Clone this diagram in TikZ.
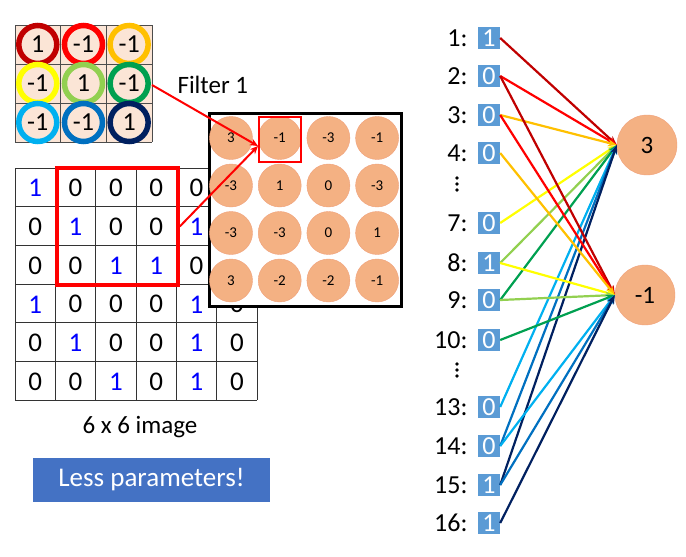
\documentclass[tikz,border=0pt]{standalone}
\usepackage{fontspec}
\setmainfont{Carlito}
\usetikzlibrary{arrows.meta}
\definecolor{peach}{HTML}{FBE5D6}
\definecolor{orb}{HTML}{F4B183}
\definecolor{orbd}{HTML}{F0A07A}
\definecolor{cA}{HTML}{C00000}
\definecolor{cB}{HTML}{FF0000}
\definecolor{cC}{HTML}{FFC000}
\definecolor{cD}{HTML}{FFFF00}
\definecolor{cE}{HTML}{92D050}
\definecolor{cF}{HTML}{00A050}
\definecolor{cG}{HTML}{00B0F0}
\definecolor{cH}{HTML}{0070C0}
\definecolor{cI}{HTML}{002060}
\definecolor{inbox}{HTML}{5B9BD5}
\definecolor{btn}{HTML}{4472C4}
\begin{document}
\begin{tikzpicture}[x=1pt,y=-1pt,
  fring/.style={circle,minimum size=38pt,line width=5.5pt,fill=peach,inner sep=0pt,font=\fontsize{26}{26}\selectfont},
  gcell/.style={font=\fontsize{27}{27}\selectfont},
  oc/.style={circle,minimum size=43pt,fill=orb,draw=orbd,line width=0.4pt,inner sep=0pt,font=\fontsize{15}{15}\selectfont},
  ib/.style={fill=inbox,text=white,minimum width=22pt,minimum height=22pt,inner sep=0pt,font=\fontsize{26}{26}\selectfont},
  il/.style={anchor=east,font=\fontsize{26}{26}\selectfont},
  big/.style={circle,minimum size=60pt,fill=orb,draw=orbd,inner sep=0pt,font=\fontsize{25}{25}\selectfont},
  dot/.style={circle,fill=black,inner sep=0pt,minimum size=3.6pt},
  arr/.style={-{Stealth[length=9pt,width=7pt]},line width=2.2pt}]
\useasboundingbox (0,0) rectangle (686,557);
% filter
\fill[peach] (15,25) rectangle (152,142);
\foreach \i in {0,1,2,3}{
  \draw[line width=0.8pt,black!70] (15+45.67*\i,25) -- (15+45.67*\i,142);
  \draw[line width=0.8pt,black!70] (15,25+39*\i) -- (152,25+39*\i);}
\foreach \v/\c [count=\i from 0] in {1/cA,-1/cB,-1/cC,-1/cD,1/cE,-1/cF,-1/cG,-1/cH,1/cI}{
  \pgfmathtruncatemacro\r{int(\i/3)}
  \pgfmathtruncatemacro\q{mod(\i,3)}
  \node[fring,draw=\c] (f\i) at (37.8+45.67*\q,44.5+39*\r) {\v};
}
\node[font=\fontsize{25}{25}\selectfont,anchor=west] (flab) at (174,85) {Filter 1};
% image
\foreach \row [count=\r from 0] in {{1,0,0,0,0,0},{0,1,0,0,1,0},{0,0,1,1,0,0},{1,0,0,0,1,0},{0,1,0,0,1,0},{0,0,1,0,1,0}}{
  \foreach \v [count=\c from 0] in \row {
    \ifnum\v=1 \node[gcell,text=blue] at (35.2+40.33*\c,188.3+38.67*\r) {1};
    \else \node[gcell] at (35.2+40.33*\c,188.3+38.67*\r) {0};\fi
  }}
\foreach \i in {0,...,6}{
  \draw[line width=0.8pt,black!80] (15+40.33*\i,168) -- (15+40.33*\i,400);
  \draw[line width=0.8pt,black!80] (15,168+38.67*\i) -- (257,168+38.67*\i);}
\node[draw=red,line width=3.5pt,minimum width=121pt,minimum height=117pt,inner sep=0pt] (rbox) at (117.5,226.5) {};
\node[font=\fontsize{25}{25}\selectfont] (cap) at (140,427) {6 x 6 image};
% output box
\node[draw=black,fill=white,line width=3pt,minimum width=192pt,minimum height=193pt,inner sep=0pt] (obox) at (305,209.5) {};
\foreach \row [count=\r from 0] in {{3,-1,-3,-1},{-3,1,0,-3},{-3,-3,0,1},{3,-2,-2,-1}}{
  \foreach \v [count=\c from 0] in \row {
    \node[oc] (o\r\c) at (231+48.7*\c,138+47.5*\r) {\v};
  }}
\node[draw=red,line width=2.5pt,minimum width=42pt,minimum height=45pt,inner sep=0pt] (sbox) at (280,139.5) {};
\coordinate (tip) at (258,146);
\draw[red,line width=2pt,-{Stealth[length=8pt,width=7pt]}] (152,85) -- (tip);
\draw[red,line width=2pt,-{Stealth[length=8pt,width=7pt]}] (rbox.east) -- (tip);
% button
\node[fill=btn,text=white,minimum width=237pt,minimum height=44pt,inner sep=0pt,font=\fontsize{27}{27}\selectfont] (btn) at (151.5,480) {Less parameters!};
% right network
\node[big] (n3) at (647,145) {3};
\node[big] (nm) at (645,295) {-1};
\foreach \k/\y/\v in {1/38/1,2/76/0,3/115/0,4/153/0,7/223/0,8/263/1,9/300/0,10/340/0,13/407/0,14/446/0,15/485/1,16/523/1}{
  \node[ib] (i\k) at (489,\y) {\v};
  \node[il] at (471,\y) {\k:};
}
\foreach \y in {178,184,190,364,370,376}{\node[dot] at (457,\y) {};}
\foreach \k/\c in {1/cA,2/cB,3/cC,7/cD,8/cE,9/cF,13/cG,14/cH,15/cI}{
  \draw[arr,draw=\c,fill=\c] (i\k.east) -- (n3.west);}
\foreach \k/\c in {2/cA,3/cB,4/cC,8/cD,9/cE,10/cF,14/cG,15/cH,16/cI}{
  \draw[arr,draw=\c,fill=\c] (i\k.east) -- (nm.west);}
\end{tikzpicture}
\end{document}
